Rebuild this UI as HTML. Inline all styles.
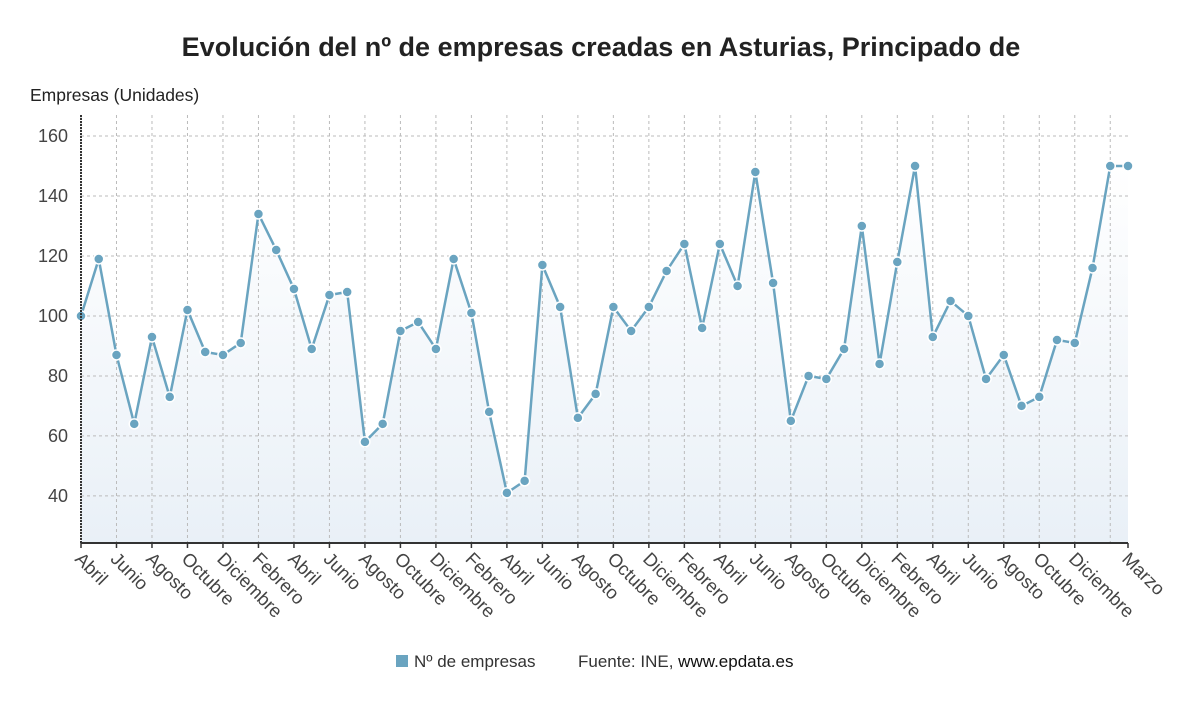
<!DOCTYPE html>
<html><head><meta charset="utf-8"><style>
body{margin:0;background:#fff;width:1200px;height:705px;overflow:hidden;font-family:"Liberation Sans",sans-serif}
</style></head><body>
<svg id="chart" width="1200" height="705" xmlns="http://www.w3.org/2000/svg">
<text x="601" y="56" text-anchor="middle" font-size="27" font-weight="bold" fill="#222">Evolución del nº de empresas creadas en Asturias, Principado de</text>
<text x="30" y="101" font-size="17.5" fill="#222">Empresas (Unidades)</text>
<g id="grid"></g><g id="plot"></g><g id="axes"></g>
<g>
<rect x="396" y="655" width="12" height="12" fill="#6aa4c0"/>
<text x="414" y="667" font-size="17" fill="#333">Nº de empresas</text>
<text x="578" y="667" font-size="17" fill="#333">Fuente: INE, <tspan fill="#111">www.epdata.es</tspan></text>
</g>
</svg>
<script>
const monthLabels=["Abril","Mayo","Junio","Julio","Agosto","Septiembre","Octubre","Noviembre","Diciembre","Enero","Febrero","Marzo"];
const values=[100,119,87,64,93,73,102,88,87,91,134,122,109,89,107,108,58,64,95,98,89,119,101,68,41,45,117,103,66,74,103,95,103,115,124,96,124,110,148,111,65,80,79,89,130,84,118,150,93,105,100,79,87,70,73,92,91,116,150,150];
const yTicks=[40,60,80,100,120,140,160];
const NS="http://www.w3.org/2000/svg";
const x0=81,x1=1128,yTop=115,yBot=543;
const yMin=24.3,yMax=167;
const n=values.length;
function xs(i){return x0+(x1-x0)*i/(n-1);}
function ys(v){return yBot-(v-yMin)/(yMax-yMin)*(yBot-yTop);}
function mk(tag,attrs,parent){const e=document.createElementNS(NS,tag);for(const k in attrs)e.setAttribute(k,attrs[k]);parent.appendChild(e);return e;}
const grid=document.getElementById('grid'),plot=document.getElementById('plot'),axes=document.getElementById('axes');
const defs=mk('defs',{},grid);
const lg=mk('linearGradient',{id:'fillg',x1:0,y1:0,x2:0,y2:1},defs);
mk('stop',{offset:'0','stop-color':'#ffffff'},lg);
mk('stop',{offset:'1','stop-color':'#e9f0f7'},lg);
let area=`M${xs(0)},${yBot}`;values.forEach((v,i)=>area+=` L${xs(i)},${ys(v)}`);area+=` L${xs(n-1)},${yBot}Z`;
const ar=mk('path',{d:area,fill:'url(#fillg)'},grid);


yTicks.forEach(t=>{
 const l=mk('line',{x1:x0,x2:x1,y1:ys(t),y2:ys(t),stroke:'#bbb','stroke-dasharray':'3,3'},grid);
 
 
 const tx=mk('text',{x:68,y:ys(t)+6,'text-anchor':'end','font-size':18,fill:'#444'},axes);
 tx.textContent=t;
 
 
});
for(let i=0;i<n;i+=2){
 const l=mk('line',{x1:xs(i),x2:xs(i),y1:yTop,y2:yBot,stroke:'#bbb','stroke-dasharray':'3,3'},grid);
 
 
}
const lab=[...Array(n).keys()].filter(i=>(i%2===0&&i<n-3)||i===n-1);
lab.forEach(i=>{
 mk('line',{x1:xs(i),x2:xs(i),y1:yBot,y2:yBot+5,stroke:'#333','stroke-width':1.5},axes);
 const tx=mk('text',{x:xs(i)-7,y:yBot+17,'font-size':18.5,fill:'#444',transform:`rotate(45 ${xs(i)-7} ${yBot+17})`},axes);
 tx.textContent=monthLabels[i%12];
 
 
});
const ax=mk('line',{x1:x0,x2:x1,y1:yBot,y2:yBot,stroke:'#333','stroke-width':2},axes);


const ay=mk('line',{x1:x0,x2:x0,y1:yTop,y2:yBot,stroke:'#333','stroke-width':2,'stroke-dasharray':'2,1'},axes);


let d='';values.forEach((v,i)=>d+=(i?' L':'M')+xs(i)+','+ys(v));
const ln=mk('path',{d:d,fill:'none',stroke:'#6aa4c0','stroke-width':2.5},plot);


values.forEach((v,i)=>{
 const c=mk('circle',{cx:xs(i),cy:ys(v),r:5,fill:'#6aa4c0',stroke:'#fff','stroke-width':1.5},plot);
 
 
});
</script>
</body></html>
